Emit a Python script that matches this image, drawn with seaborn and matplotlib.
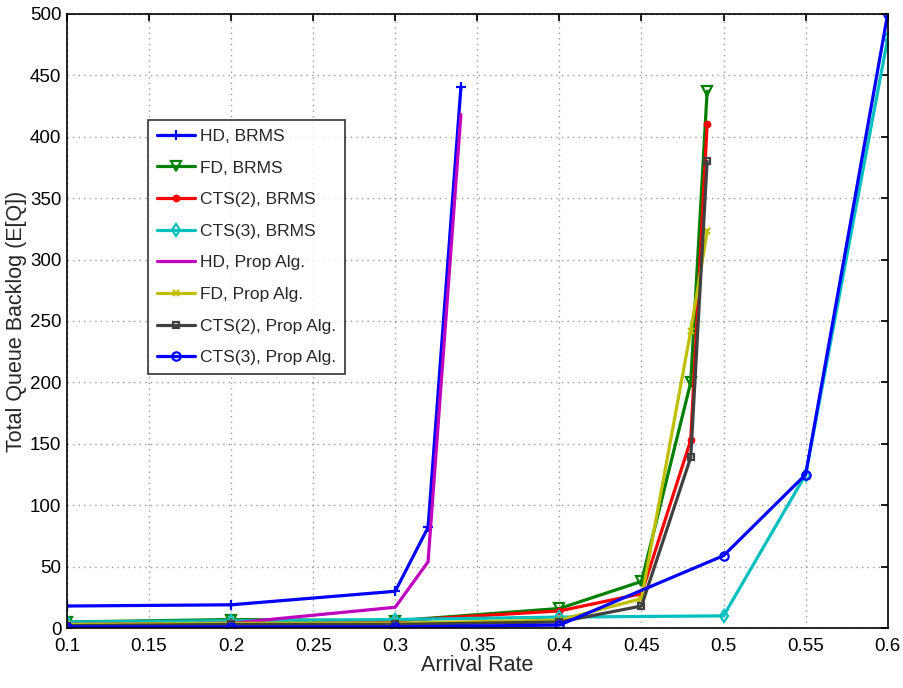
import matplotlib
matplotlib.use("Agg")
import matplotlib.pyplot as plt
import seaborn as sns
import pandas as pd

sns.set_theme(style="white")
plt.rcParams['font.family'] = ['Liberation Sans', 'DejaVu Sans']

labels = ["HD, BRMS", "FD, BRMS", "CTS(2), BRMS", "CTS(3), BRMS",
          "HD, Prop Alg.", "FD, Prop Alg.", "CTS(2), Prop Alg.", "CTS(3), Prop Alg."]

x_hd = [0.1, 0.2, 0.3, 0.32, 0.34]
x_fd = [0.1, 0.2, 0.3, 0.4, 0.45, 0.48, 0.49]
x_c3 = [0.1, 0.2, 0.3, 0.4, 0.5, 0.55, 0.6]

hd_brms = [18, 19, 30, 82, 440]
fd_brms = [5, 7, 6, 16, 38, 200, 437]
cts2_brms = [4, 5, 6, 14, 28, 153, 410]
cts3_brms = [5, 6, 7, 9, 10, 125, 480]
hd_prop = [3, 4, 17, 54, 418]
fd_prop = [3, 4, 4, 6.5, 24, 242, 323]
cts2_prop = [2, 3, 3, 5, 18, 139, 380]
cts3_prop = [1, 1, 1, 2.5, 59, 125, 500]

xs = [x_hd, x_fd, x_fd, x_c3, x_hd, x_fd, x_fd, x_c3]
ys = [hd_brms, fd_brms, cts2_brms, cts3_brms, hd_prop, fd_prop, cts2_prop, cts3_prop]

colors = [(0, 0, 1), (0, 0.5, 0), (1, 0, 0), (0, 0.75, 0.75),
          (0.75, 0, 0.75), (0.75, 0.75, 0), (0.25, 0.25, 0.25), (0, 0, 1)]
markers = ['+', 'v', 'o', 'd', None, 'x', 's', 'o']
mfcs = [None, 'none', (1, 0, 0), 'none', None, None, 'none', 'none']
msizes = [7, 7, 4, 6, 0, 5, 5, 6]

fig = plt.figure(figsize=(9.04, 6.88), dpi=100)
ax = fig.add_axes([0.074, 0.087, 0.908, 0.893])

for lab, x, y, c, m, mfc, ms in zip(labels, xs, ys, colors, markers, mfcs, msizes):
    df = pd.DataFrame({"x": x, "y": y})
    kw = dict(color=c, linewidth=2.3, label=lab)
    if m is not None:
        kw.update(marker=m, markersize=ms, markeredgecolor=c, markeredgewidth=1.6)
        if mfc is not None:
            kw.update(markerfacecolor=mfc)
    sns.lineplot(data=df, x="x", y="y", ax=ax, sort=False, estimator=None, **kw)

ax.set_xlim(0.1, 0.6)
ax.set_ylim(0, 500)
ax.set_xticks([0.1, 0.15, 0.2, 0.25, 0.3, 0.35, 0.4, 0.45, 0.5, 0.55, 0.6])
ax.set_xticklabels(["0.1", "0.15", "0.2", "0.25", "0.3", "0.35", "0.4", "0.45", "0.5", "0.55", "0.6"])
ax.set_yticks(range(0, 501, 50))
ax.tick_params(direction='in', length=5, labelsize=13.5, top=True, right=True, colors='black')
ax.tick_params(axis='x', pad=7)
ax.tick_params(axis='y', pad=4)
ax.grid(True, linestyle=(0, (1, 3)), color='#999999', linewidth=1.0)
for s in ax.spines.values():
    s.set_color('black')
    s.set_linewidth(1.2)
ax.set_xlabel("Arrival Rate", fontsize=15.5, labelpad=0)
ax.set_ylabel("Total Queue Backlog (E[Q])", fontsize=15.5, labelpad=2)

leg = ax.legend(loc='upper left', bbox_to_anchor=(0.0987, 0.827), borderaxespad=0,
                fontsize=12.5, frameon=True, fancybox=False, edgecolor='black',
                handlelength=2.2, borderpad=0.5, labelspacing=0.95, handletextpad=0.3)
leg.get_frame().set_linewidth(1.2)

fig.savefig("out.png", dpi=100)
